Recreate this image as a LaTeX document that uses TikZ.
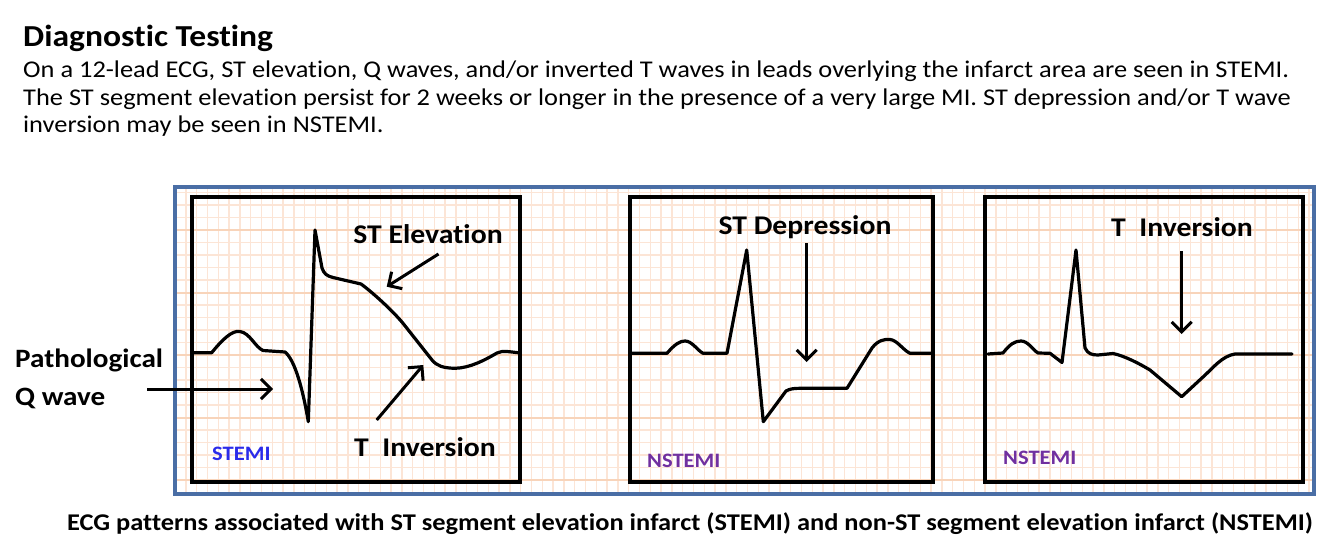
\documentclass[tikz,border=0pt]{standalone}
\usepackage{fontspec}
\setmainfont[FakeStretch=1.1, Ligatures=NoCommon]{Carlito}
\usetikzlibrary{arrows.meta}
\definecolor{framebl}{HTML}{4A6EA5}
\definecolor{gridminor}{HTML}{FCE5D6}
\definecolor{gridmajor}{HTML}{F8D4BA}
\definecolor{stemiblue}{HTML}{2B2BEA}
\definecolor{nstemipurple}{HTML}{7030A0}
\tikzset{
  panelbox/.style={draw=black, line width=4},
  trace/.style={draw=black, line width=3.2, line join=round, line cap=round},
  pointer/.style={draw=black, line width=3, -{Straight Barb[length=10,width=20]}},
  lab/.style={font=\bfseries\fontsize{27}{30}\selectfont, inner sep=0pt},
  tag/.style={font=\bfseries\fontsize{20.5}{22}\selectfont, inner sep=0pt, anchor=base west},
  bodytxt/.style={font=\fontsize{24}{28}\selectfont, inner sep=0pt, anchor=base west},
}
\begin{document}
\begin{tikzpicture}[x=1pt,y=-1pt]
\useasboundingbox (0,0) rectangle (1322,548);
\fill[white] (0,0) rectangle (1322,548);

% header text
\node[font=\bfseries\fontsize{30.5}{34}\selectfont, inner sep=0pt, anchor=base west] (title) at (23,47) {Diagnostic Testing};
\node[bodytxt] (body1) at (23,78) {On a 12-lead ECG, ST elevation, Q waves, and/or inverted T waves in leads overlying the infarct area are seen in STEMI.};
\node[bodytxt] (body2) at (23,105.5) {The ST segment elevation persist for 2 weeks or longer in the presence of a very large MI. ST depression and/or T wave};
\node[bodytxt] (body3) at (23,133) {inversion may be seen in NSTEMI.};

% ECG paper grid
\begin{scope}
\clip (175,187) rectangle (1314,494);
\foreach \i in {0,...,106} {
  \draw[gridminor, line width=1.4] ({175+\i*10.8},187) -- ++(0,307);
}
\foreach \k in {-14,...,11} {
  \pgfmathtruncatemacro{\m}{mod(\k+100,5)}
  \ifnum\m=0
    \draw[gridmajor, line width=2] (175,{355+\k*12.5}) -- (1314,{355+\k*12.5});
  \else
    \draw[gridminor, line width=1.4] (175,{355+\k*12.5}) -- (1314,{355+\k*12.5});
  \fi
}
\end{scope}
\draw[framebl, line width=4] (175,187) rectangle (1314,494);

% panels
\draw[panelbox] (192,197) rectangle (520,482);
\draw[panelbox] (630,197) rectangle (933,482);
\draw[panelbox] (985,197) rectangle (1303,482);

% STEMI trace
\draw[trace] (194,352.7) -- (211.7,352.7)
  .. controls (222,340) and (232,330) .. (240,331.5)
  .. controls (250,333) and (255,347) .. (263,350.5)
  -- (285,352)
  .. controls (295,360) and (303,390) .. (308.3,421.7)
  -- (315,230) -- (322,268)
  .. controls (324,274) and (327,276) .. (333,277.5)
  -- (361,284)
  .. controls (372,292) and (392,310) .. (403,323.3)
  -- (432,360)
  .. controls (437,366) and (443,368) .. (455,368.3)
  .. controls (470,368) and (485,360) .. (497,353)
  .. controls (503,350) and (510,352) .. (518,352.7);

% NSTEMI trace 1
\draw[trace] (632,353.3) -- (667,353.3)
  .. controls (675,344) and (680,341) .. (685,341)
  .. controls (692,341) and (697,350) .. (703,353.3)
  -- (727,353.3) -- (746.7,250) -- (763.3,421.7) -- (786,391)
  .. controls (790,388.5) and (795,388.3) .. (802,388.3)
  -- (847,388.3) -- (872,348)
  .. controls (878,340) and (885,339) .. (890,339.5)
  .. controls (897,340) and (903,350) .. (910,353.3)
  -- (931,353.3);

% NSTEMI trace 2
\draw[trace] (988,354) -- (1003,353)
  .. controls (1010,344) and (1015,341) .. (1021,341)
  .. controls (1028,341) and (1033,350) .. (1038,353)
  -- (1050,353.3) -- (1062,362.5) -- (1076,250) -- (1085,348)
  .. controls (1088,354) and (1092,355) .. (1098,355)
  -- (1113,353.5)
  .. controls (1125,356) and (1140,364) .. (1150,370)
  -- (1181.7,396.7) -- (1203,377)
  .. controls (1213,368) and (1222,356) .. (1235,354)
  -- (1292,354);

% labels
\node[lab] (stel) at (428,234) {ST Elevation};
\node[lab] (tinv1) at (425,447) {T\ \ Inversion};
\node[lab, align=left, anchor=west, font=\bfseries\fontsize{26.5}{38}\selectfont] (patho) at (15,379) {Pathological\\Q wave};
\node[lab] (stdep) at (805,227) {ST Depression};
\node[lab] (tinv2) at (1182,227) {T\ \ Inversion};
\node[tag, text=stemiblue] (tag1) at (212,460) {STEMI};
\node[tag, text=nstemipurple] (tag2) at (647,467) {NSTEMI};
\node[tag, text=nstemipurple] (tag3) at (1003,464) {NSTEMI};

% arrow coordinates
\coordinate (qs) at (147,389);
\coordinate (qe) at (273,389);
\coordinate (se1) at (438.5,254);
\coordinate (se2) at (386.7,286.7);
\coordinate (ti1) at (376.7,420);
\coordinate (ti2) at (423.3,365);
\coordinate (sd1) at (806.7,243);
\coordinate (sd2) at (806.7,362);
\coordinate (tv1) at (1181.7,251);
\coordinate (tv2) at (1181.7,334);
\draw[pointer] (qs) -- (qe);
\draw[pointer] (se1) -- (se2);
\draw[pointer] (ti1) -- (ti2);
\draw[pointer] (sd1) -- (sd2);
\draw[pointer] (tv1) -- (tv2);

% caption
\node[font=\bfseries\fontsize{24}{27}\selectfont, inner sep=0pt, anchor=base] (caption) at (690,530) {ECG patterns associated with ST segment elevation infarct (STEMI) and non-ST segment elevation infarct (NSTEMI)};
\end{tikzpicture}
\end{document}
